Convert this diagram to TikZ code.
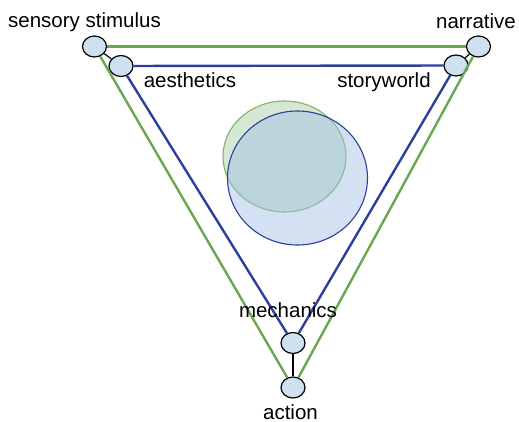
\documentclass[tikz,border=0pt]{standalone}
\usepackage{fontspec}
\setmainfont{Liberation Sans}
\usetikzlibrary{shapes.geometric}
\definecolor{gline}{RGB}{106,168,79}
\definecolor{bline}{RGB}{46,62,156}
\definecolor{nodefill}{RGB}{207,224,241}
\definecolor{gfill}{RGB}{213,232,212}
\definecolor{gedge}{RGB}{130,179,102}
\definecolor{bfill}{RGB}{158,189,229}
\begin{document}
\begin{tikzpicture}[x=1pt,y=-1pt,
  vert/.style={ellipse,draw=black,line width=1.2pt,fill=nodefill,
    minimum width=24pt,minimum height=21pt,inner sep=0pt},
  lbl/.style={anchor=base,inner sep=0pt,font=\fontsize{20.5}{24}\selectfont},
  gtri/.style={draw=gline,line width=2.4pt},
  btri/.style={draw=bline,line width=2.4pt},
  link/.style={draw=black,line width=1.2pt}]
\useasboundingbox (0,0) rectangle (519,422);

% overlapping circles
\path[draw=gedge,line width=1.1pt,fill=gfill] (284.5,156.5) ellipse [x radius=61.5,y radius=55.5];
\path[draw=bline,line width=1.1pt,fill=bfill,fill opacity=0.45] (297.5,178) ellipse [x radius=70,y radius=67];

% vertices
\node[vert] (ss) at (94.5,46.5) {};
\node[vert] (ae) at (121,66) {};
\node[vert] (na) at (478.5,46.5) {};
\node[vert] (sw) at (456,65.5) {};
\node[vert] (me) at (293,343) {};
\node[vert] (ac) at (293,387.5) {};

% outer (green) triangle
\draw[gtri] (ss) -- (na);
\draw[gtri] (ss) -- (ac);
\draw[gtri] (na) -- (ac);

% inner (blue) triangle
\draw[btri] (ae) -- (sw);
\draw[btri] (ae) -- (me);
\draw[btri] (sw) -- (me);

% links between corresponding vertices
\draw[link] (ss) -- (ae);
\draw[link] (na) -- (sw);
\draw[link] (me) -- (ac);

% labels
\node[lbl] (tss) at (84.5,27.5) {sensory stimulus};
\node[lbl] (tna) at (476,28.5) {narrative};
\node[lbl] (tae) at (190,87.5) {aesthetics};
\node[lbl] (tsw) at (384,87.5) {storyworld};
\node[lbl] (tme) at (288,317) {mechanics};
\node[lbl] (tac) at (290.5,419) {action};
\end{tikzpicture}
\end{document}
